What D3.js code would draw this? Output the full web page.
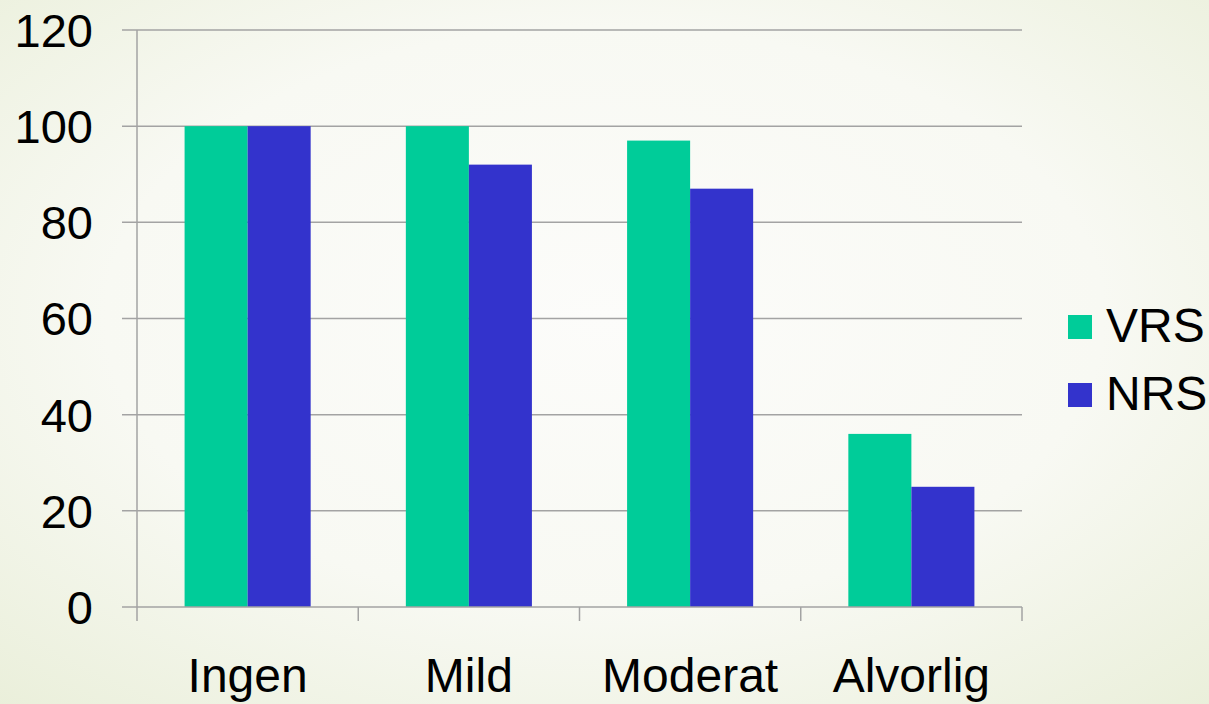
<!DOCTYPE html>
<html><head><meta charset="utf-8">
<script src="https://cdn.jsdelivr.net/npm/d3@7"></script>
<style>html,body{margin:0;padding:0;overflow:hidden;}</style>
</head><body>
<svg id="c" width="1209" height="704"></svg>
<script>
const categories = ["Ingen", "Mild", "Moderat", "Alvorlig"];
const seriesNames = ["VRS", "NRS"];
const vrs = [100, 100, 97, 36];
const nrs = [100, 92, 87, 25];
const yTicks = [0, 20, 40, 60, 80, 100, 120];
const colors = ["#00cc99", "#3333cc"];

const W = 1209, H = 704;
const m = {left: 137, right: 1022, top: 30, bottom: 607};
const svg = d3.select("#c");
const defs = svg.append("defs");
const rg = defs.append("radialGradient").attr("id","bg").attr("cx","50%").attr("cy","45%").attr("r","75%");
rg.append("stop").attr("offset","0%").attr("stop-color","#fcfcfa");
rg.append("stop").attr("offset","55%").attr("stop-color","#f8f9f3");
rg.append("stop").attr("offset","100%").attr("stop-color","#eaefda");
svg.append("rect").attr("width",W).attr("height",H).attr("fill","url(#bg)");

const x0 = d3.scaleBand().domain(categories).range([m.left, m.right]).paddingInner(0).paddingOuter(0);
const x1 = d3.scaleBand().domain(seriesNames).range([0, x0.bandwidth()]).paddingInner(0).paddingOuter(0.755);
const y = d3.scaleLinear().domain([0, 120]).range([m.bottom, m.top]);

const gridColor = "#a3a3a3";
svg.append("g").selectAll("line").data(yTicks.filter(t=>t>0)).join("line")
  .attr("x1", m.left - 15).attr("x2", m.right)
  .attr("y1", d=>y(d)).attr("y2", d=>y(d))
  .attr("stroke", gridColor).attr("stroke-width", 1.5);

const data = categories.map((c,i)=>({cat:c, vals:[vrs[i], nrs[i]]}));
const g = svg.append("g").selectAll("g").data(data).join("g")
  .attr("transform", d=>`translate(${x0(d.cat)},0)`);
g.selectAll("rect").data(d=>d.vals.map((v,j)=>({s:seriesNames[j], v, j}))).join("rect")
  .attr("x", d=>x1(d.s)).attr("width", x1.bandwidth())
  .attr("y", d=>y(d.v)).attr("height", d=>y(0)-y(d.v))
  .attr("fill", d=>colors[d.j]);

svg.append("line").attr("x1", m.left).attr("x2", m.left).attr("y1", m.top).attr("y2", m.bottom)
  .attr("stroke", gridColor).attr("stroke-width", 1.5);
svg.append("line").attr("x1", m.left - 15).attr("x2", m.right).attr("y1", m.bottom).attr("y2", m.bottom)
  .attr("stroke", gridColor).attr("stroke-width", 1.5);
const bounds = categories.map(c=>x0(c)).concat([x0(categories[categories.length-1]) + x0.bandwidth()]);
svg.append("g").selectAll("line").data(bounds).join("line")
  .attr("x1", d=>d).attr("x2", d=>d).attr("y1", m.bottom).attr("y2", m.bottom + 14)
  .attr("stroke", gridColor).attr("stroke-width", 1.5);

const font = "'Liberation Sans', Arial, sans-serif";
svg.append("g").selectAll("text").data(yTicks).join("text")
  .attr("x", 93).attr("y", d=>y(d)).attr("dy", "0.36em")
  .attr("text-anchor","end").attr("font-family", font).attr("font-size", 47).attr("fill","#000")
  .text(d=>d);

svg.append("g").selectAll("text").data(categories).join("text")
  .attr("x", d=>x0(d) + x0.bandwidth()/2).attr("y", 692)
  .attr("text-anchor","middle").attr("font-family", font).attr("font-size", 48).attr("fill","#000")
  .text(d=>d);

const leg = svg.append("g").selectAll("g").data(seriesNames).join("g")
  .attr("transform", (d,i)=>`translate(1068, ${315 + i*68})`);
leg.append("rect").attr("width", 24).attr("height", 24).attr("fill", (d,i)=>colors[i]);
leg.append("text").attr("x", 38).attr("y", 27).attr("font-family", font).attr("font-size", 48).attr("fill","#000").text(d=>d);
</script>
</body></html>
